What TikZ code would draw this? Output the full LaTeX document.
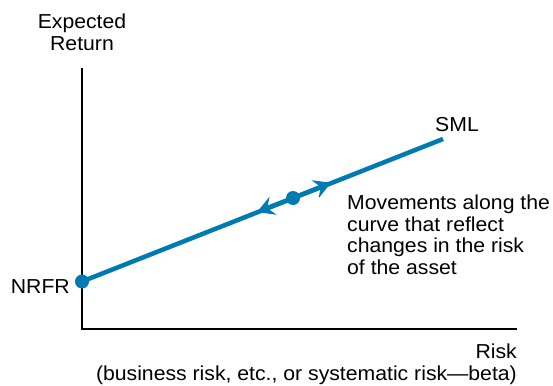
\documentclass[tikz,border=0pt]{standalone}
\usepackage{fontspec}
\setmainfont[FakeStretch=1.05]{Liberation Sans}
\usetikzlibrary{arrows.meta}
\definecolor{smlblue}{RGB}{0,122,178}

\tikzset{
  axis/.style={line width=1.2pt, black},
  sml/.style={line width=4.5pt, smlblue},
  dot/.style={circle, fill=smlblue, inner sep=0pt, minimum size=14pt},
  lbl/.style={inner sep=0pt, font=\fontsize{20.2}{21.5}\selectfont},
  tip/.style={-{Stealth[length=17pt,width=19pt,inset=6pt]}}
}

\begin{document}
\begin{tikzpicture}[x=1pt,y=-1pt]
\useasboundingbox (0,0) rectangle (553,385);

% axes
\coordinate (top) at (82,68);
\coordinate (origin) at (82,329);
\coordinate (right) at (517,329);
\draw [axis] (top)--(origin)--(right);

\node [lbl, align=center, anchor=base] (ret) at (82,50.5) {Expected\\Return};
\node [lbl, align=right, anchor=base east] (risk) at (517,380)
  {Risk\\(business risk, etc., or systematic risk—beta)};

% the security market line
\node [dot] (rf) at (82,281.5) {};
\node [dot] (asset) at (293,198) {};
\coordinate (smlend) at (443,139);
\draw [sml] (rf.center)--(smlend);

\coordinate (up) at (331,182.8);
\coordinate (down) at (257,212);
\draw [sml, tip] (asset.center)--(up);
\draw [sml, tip] (asset.center)--(down);

\node [lbl, anchor=base east] (nrfr) at (70,293) {NRFR};
\node [lbl, anchor=base] (smllbl) at (457,131) {SML};
\node [lbl, align=left, anchor=base west] (move) at (347,274)
  {Movements along the\\curve that reflect\\changes in the risk\\of the asset};

%\draw [help lines, step=10] (0,0) grid (553,385);
\end{tikzpicture}
\end{document}
